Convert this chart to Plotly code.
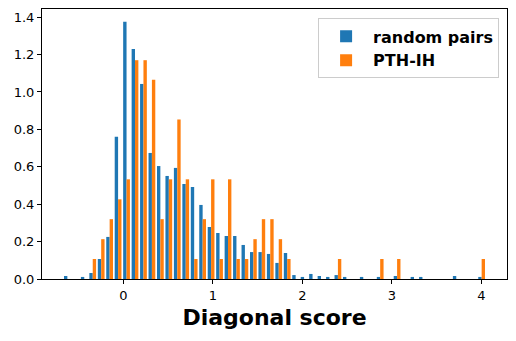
import numpy as np
import plotly.graph_objects as go

# histogram bins (50 equal bins over the combined data range)
BIN_MIN = -0.672
BIN_MAX = 4.049
N_BINS = 50

# density per bin
random_pairs = [
    0.016, 0.0, 0.011, 0.032, 0.107, 0.225, 0.760, 1.375, 1.230, 1.043,
    0.674, 0.604, 0.551, 0.594, 0.508, 0.492, 0.396, 0.278, 0.246, 0.230,
    0.230, 0.182, 0.144, 0.144, 0.134, 0.086, 0.139, 0.021, 0.011, 0.027,
    0.016, 0.011, 0.021, 0.011, 0.0, 0.011, 0.0, 0.011, 0.0, 0.016,
    0.0, 0.011, 0.011, 0.0, 0.0, 0.0, 0.016, 0.0, 0.0, 0.011,
]
pth_ih = [
    0.0, 0.0, 0.0, 0.107, 0.213, 0.320, 0.426, 0.533, 1.170, 1.170,
    1.066, 0.320, 0.533, 0.853, 0.533, 0.107, 0.320, 0.533, 0.107, 0.533,
    0.107, 0.107, 0.213, 0.320, 0.320, 0.213, 0.107, 0.0, 0.0, 0.0,
    0.0, 0.0, 0.107, 0.0, 0.0, 0.0, 0.0, 0.107, 0.0, 0.107,
    0.0, 0.0, 0.0, 0.0, 0.0, 0.0, 0.0, 0.0, 0.0, 0.107,
]

x_ticks = [0, 1, 2, 3, 4]
y_ticks = [0.0, 0.2, 0.4, 0.6, 0.8, 1.0, 1.2, 1.4]

edges = np.linspace(BIN_MIN, BIN_MAX, N_BINS + 1)
centers = (edges[:-1] + edges[1:]) / 2

FONT = 'DejaVu Sans'

fig = go.Figure()
fig.add_trace(go.Bar(x=centers, y=random_pairs, name='random pairs',
                     marker=dict(color='#1f77b4', line=dict(width=0))))
fig.add_trace(go.Bar(x=centers, y=pth_ih, name='PTH-IH',
                     marker=dict(color='#ff7f0e', line=dict(width=0))))

span = BIN_MAX - BIN_MIN
axis_common = dict(
    showgrid=False, zeroline=False, showline=True, linecolor='black', linewidth=1,
    mirror=True, ticks='outside', ticklen=4, tickwidth=1, tickcolor='black',
    tickfont=dict(family=FONT, size=13, color='black'), automargin=False,
)
# the page body adds an 8px offset, so the figure is 8px smaller than the window
fig.update_layout(
    width=508, height=333,
    paper_bgcolor='white', plot_bgcolor='white',
    margin=dict(l=34, r=9, t=1, b=62),
    barmode='group', bargap=0.2, bargroupgap=0,
    font=dict(family=FONT, color='black'),
    xaxis=dict(range=[BIN_MIN - 0.05 * span, BIN_MAX + 0.05 * span],
               tickvals=x_ticks,
               title=dict(text='Diagonal score', standoff=8,
                          font=dict(family=FONT, size=22, weight='bold', color='black')),
               **axis_common),
    yaxis=dict(range=[0, max(random_pairs) * 1.05], tickvals=y_ticks, tickformat='.1f',
               **axis_common),
    legend=dict(x=0.983, y=0.965, xanchor='right', yanchor='top',
                bgcolor='white', bordercolor='#cccccc', borderwidth=1,
                font=dict(family=FONT, size=16, weight='bold', color='black'),
                itemwidth=44, tracegroupgap=0),
)

fig.write_html("out.html")
